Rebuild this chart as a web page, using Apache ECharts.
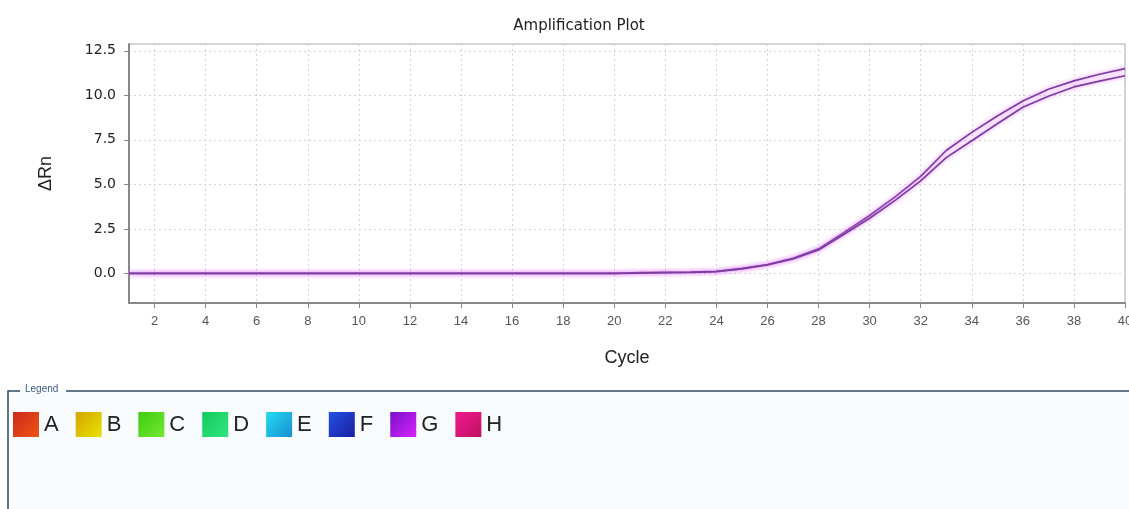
<!DOCTYPE html>
<html>
<head>
<meta charset="utf-8">
<script src="https://cdn.jsdelivr.net/npm/echarts@6/dist/echarts.min.js"></script>
<style>html,body{margin:0;padding:0;background:#fff;}#c{width:1129px;height:509px;}</style>
</head>
<body>
<div id="c"></div>
<script>
const cycles = [1,2,3,4,5,6,7,8,9,10,11,12,13,14,15,16,17,18,19,20,21,22,23,24,25,26,27,28,29,30,31,32,33,34,35,36,37,38,39,40];
const wellUpper = [0,0,0,0,0,0,0,0,0,0,0,0,0,0,0,0,0,0,0,0,0.05,0.06,0.07,0.12,0.28,0.5,0.85,1.38,2.3,3.25,4.3,5.45,6.9,7.92,8.84,9.68,10.34,10.81,11.18,11.5];
const wellLower = [0,0,0,0,0,0,0,0,0,0,0,0,0,0,0,0,0,0,0,0,0.02,0.05,0.06,0.1,0.26,0.48,0.82,1.32,2.2,3.1,4.1,5.2,6.5,7.45,8.4,9.33,9.95,10.47,10.8,11.1];
const xTicks = [2,4,6,8,10,12,14,16,18,20,22,24,26,28,30,32,34,36,38,40];
const yTicks = [0,2.5,5,7.5,10,12.5];
const legendNames = ['A','B','C','D','E','F','G','H'];
const legendColors = [
  ['#cc2a1c','#f05412'],['#d4a400','#e6e400'],['#3ecc10','#74e832'],['#10cc5c','#34e482'],
  ['#22dcf2','#1a8ed0'],['#2252e2','#1a1ea0'],['#7c10cc','#d424fa'],['#f01a92','#c0105e']
];
const yMin = -1.66, yMax = 12.88;

const chart = echarts.init(document.getElementById('c'), null, {renderer:'canvas'});
function grad(c){return {type:'linear',x:0,y:0,x2:1,y2:1,colorStops:[{offset:0,color:c[0]},{offset:1,color:c[1]}]};}
const lineStyle = {color:'#7c3e9e', width:1.7, shadowColor:'rgba(226,110,255,0.9)', shadowBlur:4};
const series = legendNames.map(n => ({name:n, type:'line', data:[], showSymbol:false}));
series[6] = {name:'G', type:'line', data:cycles.map((c,i)=>[c,wellUpper[i]]), showSymbol:false, smooth:false, lineStyle:lineStyle, itemStyle:{color:'#9a30d8'}, z:3};
series.push({name:'G', type:'line', data:cycles.map((c,i)=>[c,wellLower[i]]), showSymbol:false, smooth:false, lineStyle:lineStyle, itemStyle:{color:'#9a30d8'}, z:3});

chart.setOption({
  animation:false,
  backgroundColor:'#fff',
  title:{text:'Amplification Plot', left:574, textAlign:'center', top:14,
    textStyle:{fontFamily:'DejaVu Sans', fontSize:15, fontWeight:'normal', color:'#222'}},
  graphic:[
    {type:'rect', shape:{x:8,y:391,width:1130,height:130}, style:{fill:'#f9fcff', stroke:null}, z:-10},
    {type:'polyline', shape:{points:[[8,512],[8,391],[20,391]]}, style:{stroke:'#2f4a60', lineWidth:1.5, fill:null}},
    {type:'line', shape:{x1:66,y1:391,x2:1130,y2:391}, style:{stroke:'#2f4a60', lineWidth:1.5}},
    {type:'text', left:25, top:384, style:{text:'Legend', fontSize:10, fontFamily:'Liberation Sans', fill:'#3a5a8a'}}
  ],
  legend:{
    left:13, top:412, padding:0, itemWidth:26, itemHeight:25, itemGap:17, icon:'rect',
    textStyle:{fontFamily:'Liberation Sans', fontSize:22, color:'#222'},
    data:legendNames.map((n,i)=>({name:n, icon:'rect', itemStyle:{color:grad(legendColors[i])}}))
  },
  grid:{left:129, right:4, top:44, bottom:206, show:true, borderColor:'#aaa', borderWidth:1, containLabel:false, outerBoundsMode:'none'},
  xAxis:{type:'value', min:1, max:40, name:'Cycle', nameLocation:'middle', nameGap:46,
    nameTextStyle:{fontFamily:'Liberation Sans', fontSize:18, color:'#222'},
    axisLine:{show:true, onZero:false, lineStyle:{color:'#888', width:2}},
    axisTick:{show:true, customValues:xTicks, length:5, lineStyle:{color:'#888'}},
    axisLabel:{customValues:xTicks, margin:12, fontFamily:'Liberation Sans', fontSize:13, color:'#555', hideOverlap:false},
    splitLine:{show:true, lineStyle:{color:'#d4d4d4', type:[2,3]}}
  },
  yAxis:{type:'value', min:yMin, max:yMax, name:'ΔRn', nameLocation:'middle', nameGap:74, nameRotate:90,
    nameTextStyle:{fontFamily:'Liberation Sans', fontSize:18, color:'#222'},
    axisLine:{show:true, onZero:false, lineStyle:{color:'#888', width:2}},
    axisTick:{show:true, customValues:yTicks, length:5, lineStyle:{color:'#888'}},
    axisLabel:{customValues:yTicks, margin:13, fontFamily:'DejaVu Sans', fontSize:14, color:'#222',
      formatter:v=>v.toFixed(1)},
    splitLine:{show:true, lineStyle:{color:'#d4d4d4', type:[2,3]}}
  },
  series:series
});
</script>
</body>
</html>
